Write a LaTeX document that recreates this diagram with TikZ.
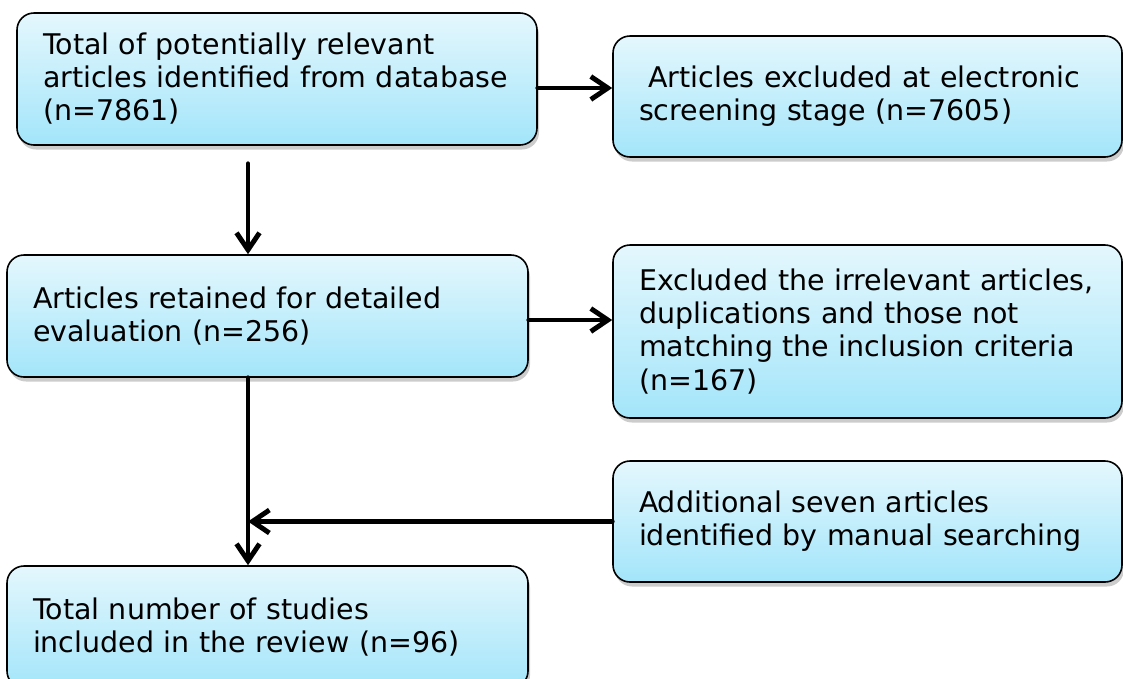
\documentclass[tikz,border=0pt]{standalone}
\usepackage{fontspec}
\setmainfont{DejaVu Sans}
\usepackage{tikz}
\usetikzlibrary{arrows.meta, shadows}
\definecolor{boxtop}{RGB}{228,247,253}
\definecolor{boxbottom}{RGB}{163,229,250}

\begin{document}
\begin{tikzpicture}[
    box/.style={rectangle, draw=black, line width=0.9pt, top color=boxtop, bottom color=boxbottom,
                rounded corners=0.34cm, align=left, inner xsep=0.52cm, text width=#1,
                font=\fontsize{16.2}{18.8}\selectfont,
                drop shadow={opacity=0.4, shadow xshift=0.04cm, shadow yshift=-0.09cm}},
    arr/.style={line width=2.8pt, line cap=round, -{Straight Barb[length=0.34cm, width=0.46cm]}}
]
    \useasboundingbox (0,0) rectangle (22.46,-13.56);

    % left column
    \node[box=9.36cm, minimum height=2.64cm] (total) at (5.54,-1.58) {
        Total of potentially relevant\\
        articles identified from database\\
        (n=7861)
    };
    \node[box=9.38cm, minimum height=2.44cm] (retained) at (5.35,-6.32) {
        Articles retained for detailed\\
        evaluation (n=256)
    };
    \node[box=9.38cm, minimum height=2.44cm] (included) at (5.35,-12.54) {
        Total number of studies\\
        included in the review (n=96)
    };

    % right column
    \node[box=9.14cm, minimum height=2.42cm] (screen) at (17.35,-1.93) {
        \ Articles excluded at electronic\\
        screening stage (n=7605)
    };
    \node[box=9.14cm, minimum height=3.46cm] (excluded) at (17.35,-6.63) {
        Excluded the irrelevant articles,\\
        duplications and those not\\
        matching the inclusion criteria\\
        (n=167)
    };
    \node[box=9.14cm, minimum height=2.42cm] (manual) at (17.35,-10.43) {
        Additional seven articles\\
        identified by manual searching
    };

    % connectors
    \coordinate (spine) at (4.96,0);
    \draw[arr] ([yshift=-0.18cm]total.east) -- ([yshift=-0.18cm]total.east -| screen.west);
    \draw[arr] ([yshift=-0.36cm]spine |- total.south) -- (spine |- retained.north);
    \draw[arr] ([yshift=-0.08cm]retained.east) -- ([yshift=-0.08cm]retained.east -| excluded.west);
    \draw[arr] (spine |- retained.south) -- (spine |- included.north);
    \draw[arr] (manual.west) -- (manual.west -| spine);
\end{tikzpicture}
\end{document}
